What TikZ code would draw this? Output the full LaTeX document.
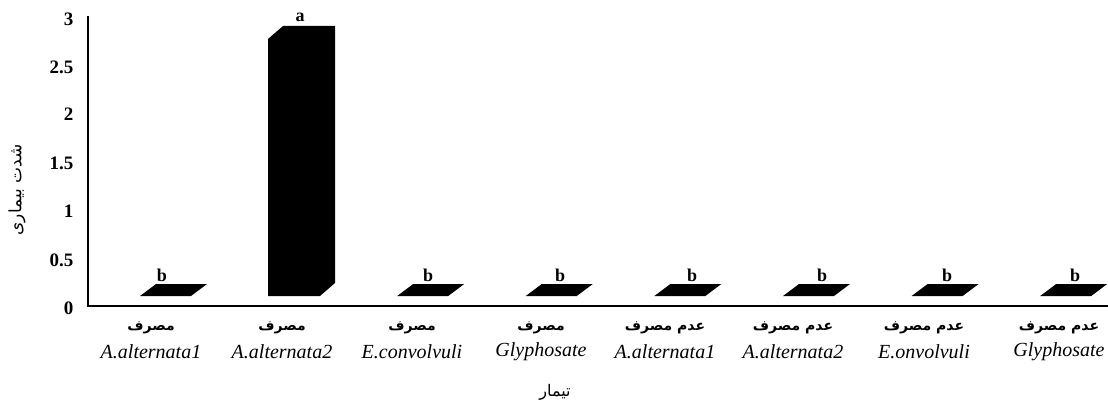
\documentclass[tikz,border=0pt]{standalone}
\usepackage{fontspec}
\setmainfont{Liberation Serif}
\newfontfamily\arabicfont[Script=Arabic]{DejaVu Sans}
\TeXXeTstate=1
\begin{document}
\begin{tikzpicture}[x=1pt,y=-1pt,
  tick/.style={anchor=east,font=\fontsize{19}{19}\selectfont\bfseries},
  letter/.style={font=\fontsize{18}{18}\selectfont\bfseries},
  fa/.style={font=\fontsize{14}{14}\selectfont\arabicfont\bfseries},
  latin/.style={font=\fontsize{20}{20}\selectfont\itshape}]
  \useasboundingbox (0,0) rectangle (1108,404);
  % axes
  \coordinate (top) at (88,16);
  \coordinate (o) at (88,306);
  \coordinate (end) at (1108,306);
  \draw[line width=2.2pt] (top) -- (o) -- (end);
  \foreach \v/\y in {3/19,2.5/67,2/114,1.5/163,1/211,0.5/260,0/308}
    \node[tick] (t\y) at (77,\y) {\v};
  % flat bars
  \foreach \k/\bx in {1/162,3/428,4/560,5/692,6/822,7/947,8/1075}{
    \pgfmathsetmacro\xa{140+128.6*(\k-1)}
    \fill (\xa,296) -- ++(51,0) -- ++(16,-12) -- ++(-51,0) -- cycle;
    \node[letter] (b\k) at (\bx,275) {b};
  }
  % tall bar
  \fill (268,296) -- (268,39) -- (283,26) -- (335,26) -- (335,283) -- (320,296) -- cycle;
  \node[letter] (a2) at (300,17) {a};
  % category labels
  \foreach \x/\fa/\la [count=\i] in {151/مصرف/A.alternata1,282/مصرف/A.alternata2,412/مصرف/E.convolvuli,541/مصرف/Glyphosate,665/عدم مصرف/A.alternata1,793/عدم مصرف/A.alternata2,924/عدم مصرف/E.onvolvuli,1059/عدم مصرف/Glyphosate}{
    \node[fa] (f\i) at (\x,328) {\beginR\fa\endR};
    \node[latin] (l\i) at (\x,352) {\la};
  }
  % axis titles
  \node[font=\fontsize{16}{16}\selectfont\arabicfont] (xt) at (555,392) {\beginR تیمار\endR};
  \node[font=\fontsize{17}{17}\selectfont\arabicfont,rotate=90] (yt) at (17,190) {\beginR شدت بیماری\endR};
\end{tikzpicture}
\end{document}
